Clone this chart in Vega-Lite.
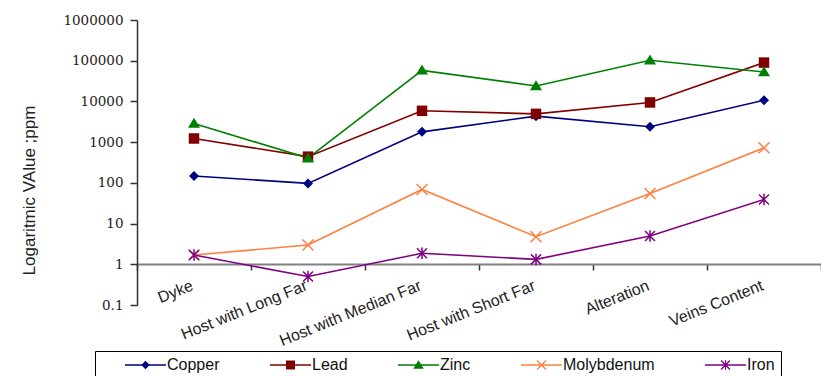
{
  "$schema": "https://vega.github.io/schema/vega-lite/v6.json",
  "width": 684,
  "height": 285,
  "autosize": {"type": "none"},
  "padding": {"left": 137, "top": 20, "right": 0, "bottom": 71},
  "background": "white",
  "config": {"view": {"stroke": null}, "font": "Liberation Sans"},
  "data": {"values": [
    {"category": "Dyke", "series": "Copper", "value": 147},
    {"category": "Host with Long Far", "series": "Copper", "value": 97},
    {"category": "Host with Median Far", "series": "Copper", "value": 1790},
    {"category": "Host with Short Far", "series": "Copper", "value": 4350},
    {"category": "Alteration", "series": "Copper", "value": 2380},
    {"category": "Veins Content", "series": "Copper", "value": 10700},
    {"category": "Dyke", "series": "Lead", "value": 1230},
    {"category": "Host with Long Far", "series": "Lead", "value": 440},
    {"category": "Host with Median Far", "series": "Lead", "value": 5880},
    {"category": "Host with Short Far", "series": "Lead", "value": 4950},
    {"category": "Alteration", "series": "Lead", "value": 9440},
    {"category": "Veins Content", "series": "Lead", "value": 90000},
    {"category": "Dyke", "series": "Zinc", "value": 2880},
    {"category": "Host with Long Far", "series": "Zinc", "value": 405},
    {"category": "Host with Median Far", "series": "Zinc", "value": 58000},
    {"category": "Host with Short Far", "series": "Zinc", "value": 24000},
    {"category": "Alteration", "series": "Zinc", "value": 103000},
    {"category": "Veins Content", "series": "Zinc", "value": 53000},
    {"category": "Dyke", "series": "Molybdenum", "value": 1.69},
    {"category": "Host with Long Far", "series": "Molybdenum", "value": 2.97},
    {"category": "Host with Median Far", "series": "Molybdenum", "value": 69},
    {"category": "Host with Short Far", "series": "Molybdenum", "value": 4.75},
    {"category": "Alteration", "series": "Molybdenum", "value": 55},
    {"category": "Veins Content", "series": "Molybdenum", "value": 725},
    {"category": "Dyke", "series": "Iron", "value": 1.69},
    {"category": "Host with Long Far", "series": "Iron", "value": 0.5},
    {"category": "Host with Median Far", "series": "Iron", "value": 1.86},
    {"category": "Host with Short Far", "series": "Iron", "value": 1.32},
    {"category": "Alteration", "series": "Iron", "value": 4.94},
    {"category": "Veins Content", "series": "Iron", "value": 39}
  ]},
  "encoding": {
    "x": {
      "field": "category",
      "type": "nominal",
      "sort": ["Dyke", "Host with Long Far", "Host with Median Far", "Host with Short Far", "Alteration", "Veins Content"],
      "scale": {"type": "band", "paddingInner": 0, "paddingOuter": 0},
      "axis": {
        "title": null,
        "orient": "bottom",
        "offset": -41,
        "grid": false,
        "domainColor": "#808080",
        "domainWidth": 2,
        "tickBand": "extent",
        "tickColor": "#333333",
        "tickSize": 6,
        "tickWidth": 1.5,
        "labelAngle": -22,
        "labelAlign": "right",
        "labelBaseline": "top",
        "labelPadding": 7,
        "labelOffset": -5,
        "labelFont": "Liberation Sans",
        "labelFontSize": 16,
        "labelColor": "#222222"
      }
    },
    "y": {
      "field": "value",
      "type": "quantitative",
      "scale": {"type": "log", "domain": [0.1, 1000000], "nice": false},
      "axis": {
        "title": "Logaritmic VAlue ;ppm",
        "values": [0.1, 1, 10, 100, 1000, 10000, 100000, 1000000],
        "format": "~f",
        "grid": false,
        "domainColor": "#333333",
        "domainWidth": 1.5,
        "tickColor": "#333333",
        "tickWidth": 1.5,
        "tickSize": 7,
        "labelPadding": 7,
        "labelFont": "DejaVu Serif",
        "labelFontSize": 13.5,
        "labelColor": "#222222",
        "titleFont": "Liberation Sans",
        "titleFontSize": 17,
        "titleFontWeight": "normal",
        "titleColor": "#222222",
        "titlePadding": 24,
        "titleY": 170
      }
    }
  },
  "layer": [
    {
      "mark": {"type": "line", "strokeWidth": 1.6},
      "encoding": {
        "color": {
          "field": "series", "type": "nominal",
          "scale": {"domain": ["Copper", "Lead", "Zinc", "Molybdenum", "Iron"], "range": ["#000080", "#800000", "#008000", "#FF8040", "#800080"]},
          "legend": null
        }
      }
    },
    {
      "mark": {"type": "point", "filled": true, "opacity": 1, "size": 100, "strokeWidth": 0},
      "encoding": {
        "color": {
          "field": "series", "type": "nominal",
          "scale": {"domain": ["Copper", "Lead", "Zinc", "Molybdenum", "Iron"], "range": ["#000080", "#800000", "#008000", "#FF8040", "#800080"]},
          "legend": null
        },
        "shape": {
          "field": "series", "type": "nominal",
          "scale": {"domain": ["Copper", "Lead", "Zinc", "Molybdenum", "Iron"], "range": [
            "M0,-1L1,0L0,1L-1,0Z",
            "M-1.05,-1.05H1.05V1.05H-1.05Z",
            "M0,-1.15L1.2,0.85H-1.2Z",
            "M-0.994,-1.206L1.206,0.994L0.994,1.206L-1.206,-0.994ZM1.206,-0.994L-0.994,1.206L-1.206,0.994L0.994,-1.206Z",
            "M-0.894,-1.106L1.106,0.894L0.894,1.106L-1.106,-0.894ZM1.106,-0.894L-0.894,1.106L-1.106,0.894L0.894,-1.106ZM-0.15,-1.15H0.15V1.15H-0.15Z"
          ]},
          "legend": null
        }
      }
    },
    {
      "transform": [{"filter": "false"}],
      "mark": {"type": "point", "filled": true, "opacity": 1, "size": 100, "strokeWidth": 0},
      "encoding": {
        "color": {
          "field": "series", "type": "nominal",
          "scale": {"domain": ["Copper", "Lead", "Zinc", "Molybdenum", "Iron"], "range": ["#000080", "#800000", "#008000", "#FF8040", "#800080"]},
          "legend": {
            "title": null, "orient": "none", "legendX": -42, "legendY": 331, "direction": "horizontal", "columns": 5,
            "strokeColor": "#000000", "padding": 6, "labelFont": "Liberation Sans", "labelFontSize": 16, "labelColor": "#111111",
            "symbolSize": 100, "symbolStrokeWidth": 0, "labelOffset": 50, "columnPadding": 26
          }
        },
        "shape": {
          "field": "series", "type": "nominal",
          "scale": {"domain": ["Copper", "Lead", "Zinc", "Molybdenum", "Iron"], "range": [
            "M3.2,-0.15H11.4V0.15H3.2ZM7.3,-0.85L8.15,0L7.3,0.85L6.45,0Z",
            "M3.2,-0.15H11.4V0.15H3.2ZM6.4,-0.9H8.2V0.9H6.4Z",
            "M3.2,-0.15H11.4V0.15H3.2ZM7.3,-0.95L8.35,0.75H6.25Z",
            "M3.2,-0.15H11.4V0.15H3.2ZM6.492,-0.992L8.292,0.808L8.108,0.992L6.308,-0.808ZM8.292,-0.808L6.492,0.992L6.308,0.808L8.108,-0.992Z",
            "M3.2,-0.15H11.4V0.15H3.2ZM6.492,-0.992L8.292,0.808L8.108,0.992L6.308,-0.808ZM8.292,-0.808L6.492,0.992L6.308,0.808L8.108,-0.992ZM7.17,-0.95H7.43V0.95H7.17Z"
          ]},
          "legend": {
            "title": null, "orient": "none", "legendX": -42, "legendY": 331, "direction": "horizontal", "columns": 5,
            "strokeColor": "#000000", "padding": 6, "labelFont": "Liberation Sans", "labelFontSize": 16, "labelColor": "#111111",
            "symbolSize": 100, "symbolStrokeWidth": 0, "labelOffset": 50, "columnPadding": 26
          }
        }
      }
    }
  ],
  "resolve": {"scale": {"color": "independent", "shape": "independent"}}
}
